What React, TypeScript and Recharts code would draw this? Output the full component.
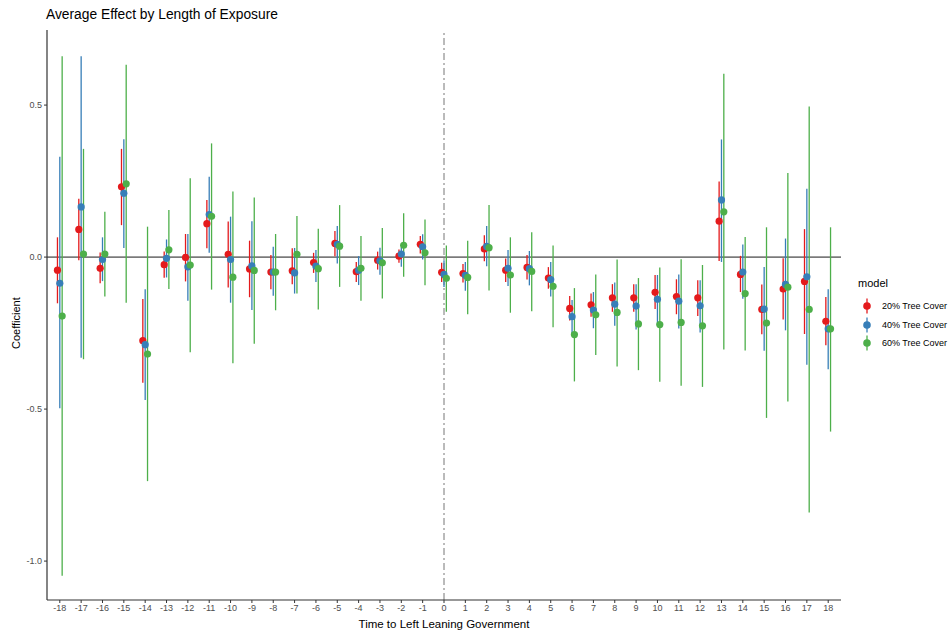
import { ComposedChart, Scatter, ErrorBar, XAxis, YAxis, ReferenceLine } from "recharts";

// time to left leaning government
const periods = [
  -18, -17, -16, -15, -14, -13, -12, -11, -10, -9, -8, -7, -6, -5, -4, -3, -2, -1,
  0, 1, 2, 3, 4, 5, 6, 7, 8, 9, 10, 11, 12, 13, 14, 15, 16, 17, 18,
];
const yTicks = [-1, -0.5, 0, 0.5];

// 20% tree cover
const est20 = [
  -0.043, 0.091, -0.037, 0.231, -0.275, -0.025, -0.001, 0.11, 0.009, -0.039, -0.049, -0.045, -0.018, 0.045, -0.048, -0.01, 0.003, 0.042,
  -0.05, -0.054, 0.027, -0.043, -0.034, -0.069, -0.169, -0.157, -0.134, -0.134, -0.116, -0.13, -0.134, 0.118, -0.057, -0.172, -0.105, -0.08, -0.211,
];
const lo20 = [
  -0.152, -0.01, -0.086, 0.105, -0.413, -0.068, -0.08, 0.029, -0.1, -0.132, -0.106, -0.089, -0.052, 0.003, -0.082, -0.041, -0.019, 0.012,
  -0.082, -0.084, -0.014, -0.082, -0.074, -0.104, -0.209, -0.196, -0.18, -0.18, -0.171, -0.188, -0.194, -0.013, -0.115, -0.254, -0.205, -0.253, -0.29,
];
const hi20 = [
  0.065, 0.192, 0.015, 0.356, -0.138, 0.018, 0.076, 0.188, 0.117, 0.054, 0.007, 0.029, 0.014, 0.086, -0.016, 0.018, 0.025, 0.069,
  -0.019, -0.023, 0.072, -0.005, 0.007, -0.033, -0.128, -0.12, -0.089, -0.089, -0.059, -0.073, -0.076, 0.249, 0.004, -0.09, -0.004, 0.092, -0.131,
];

// 40% tree cover
const est40 = [
  -0.086, 0.165, -0.008, 0.21, -0.288, -0.004, -0.032, 0.14, -0.008, -0.029, -0.049, -0.052, -0.03, 0.042, -0.043, -0.012, 0.01, 0.034,
  -0.057, -0.06, 0.035, -0.037, -0.038, -0.074, -0.196, -0.174, -0.155, -0.161, -0.139, -0.145, -0.16, 0.188, -0.049, -0.171, -0.09, -0.065, -0.236,
];
const lo40 = [
  -0.497, -0.331, -0.079, 0.03, -0.47, -0.067, -0.144, 0.014, -0.15, -0.174, -0.127, -0.12, -0.082, -0.021, -0.092, -0.058, -0.032, -0.008,
  -0.098, -0.111, -0.03, -0.095, -0.093, -0.13, -0.251, -0.234, -0.226, -0.238, -0.224, -0.235, -0.248, -0.016, -0.137, -0.308, -0.241, -0.354, -0.369,
];
const hi40 = [
  0.33, 0.661, 0.065, 0.388, -0.106, 0.058, 0.076, 0.264, 0.133, 0.118, 0.034, 0.03, 0.023, 0.102, 0.003, 0.031, 0.032, 0.075,
  -0.01, -0.016, 0.102, 0.023, 0.02, -0.016, -0.141, -0.115, -0.084, -0.089, -0.059, -0.057, -0.076, 0.387, 0.041, -0.033, 0.061, 0.225, -0.106,
];

// 60% tree cover
const est60 = [
  -0.194, 0.01, 0.01, 0.241, -0.319, 0.024, -0.026, 0.134, -0.066, -0.044, -0.049, 0.009, -0.038, 0.036, -0.037, -0.019, 0.039, 0.014,
  -0.07, -0.067, 0.031, -0.059, -0.047, -0.096, -0.255, -0.19, -0.182, -0.22, -0.222, -0.215, -0.226, 0.149, -0.12, -0.217, -0.099, -0.172, -0.236,
];
const lo60 = [
  -1.048, -0.336, -0.13, -0.15, -0.737, -0.105, -0.313, -0.107, -0.349, -0.285, -0.175, -0.12, -0.172, -0.098, -0.144, -0.136, -0.065, -0.093,
  -0.18, -0.188, -0.11, -0.183, -0.178, -0.231, -0.409, -0.322, -0.36, -0.372, -0.41, -0.423, -0.427, -0.304, -0.307, -0.529, -0.475, -0.84, -0.574,
];
const hi60 = [
  0.661, 0.356, 0.149, 0.633, 0.1, 0.155, 0.259, 0.374, 0.216, 0.196, 0.076, 0.135, 0.093, 0.171, 0.069, 0.096, 0.144, 0.124,
  0.038, 0.054, 0.171, 0.065, 0.082, 0.038, -0.102, -0.057, -0.008, -0.069, -0.034, -0.007, -0.026, 0.603, 0.066, 0.098, 0.277, 0.495, 0.098,
];

const models = [
  { name: "20% Tree Cover", color: "#E41A1C", est: est20, lo: lo20, hi: hi20, dodge: -0.11 },
  { name: "40% Tree Cover", color: "#377EB8", est: est40, lo: lo40, hi: hi40, dodge: 0 },
  { name: "60% Tree Cover", color: "#4DAF4A", est: est60, lo: lo60, hi: hi60, dodge: 0.11 },
];

const FONT = "Liberation Sans, Arial, Helvetica, sans-serif";
const tickStyle = { fill: "#4d4d4d", fontSize: 9, fontFamily: FONT };

const buildRows = (m: (typeof models)[number]) =>
  periods.map((p, i) => ({
    t: p + m.dodge,
    coef: m.est[i],
    err: [m.est[i] - m.lo[i], m.hi[i] - m.est[i]],
  }));

export default function App() {
  return (
    <div style={{ position: "absolute", left: 0, top: 0, width: 951, height: 633, background: "#fff", fontFamily: FONT }}>
      <div style={{ position: "absolute", left: 46, top: 7, fontSize: 13.8, color: "#000" }}>
        Average Effect by Length of Exposure
      </div>

      <ComposedChart width={951} height={633} margin={{ top: 30, right: 110, bottom: 12, left: 7 }}>
        <XAxis
          dataKey="t"
          type="number"
          domain={[-18.6, 18.6]}
          ticks={periods}
          interval={0}
          allowDataOverflow
          tick={tickStyle}
          tickSize={3}
          axisLine={{ stroke: "#333", strokeWidth: 1.2 }}
          tickLine={{ stroke: "#333" }}
          height={21}
        />
        <YAxis
          dataKey="coef"
          type="number"
          domain={[-1.128, 0.747]}
          ticks={yTicks}
          allowDataOverflow
          tickFormatter={(v: number) => v.toFixed(1)}
          tick={tickStyle}
          tickSize={3}
          axisLine={{ stroke: "#333", strokeWidth: 1.2 }}
          tickLine={{ stroke: "#333" }}
          width={40}
        />
        <ReferenceLine y={0} stroke="#1a1a1a" strokeWidth={1} />
        <ReferenceLine x={0} stroke="#777" strokeWidth={1} strokeDasharray="7 3 2 3" />
        {models.map((m) => (
          <Scatter
            key={m.name}
            name={m.name}
            data={buildRows(m)}
            fill={m.color}
            isAnimationActive={false}
            shape={(p: any) => <circle cx={p.cx} cy={p.cy} r={3.6} fill={m.color} />}
          >
            <ErrorBar dataKey="err" direction="y" width={0} stroke={m.color} strokeWidth={1.3} isAnimationActive={false} />
          </Scatter>
        ))}
      </ComposedChart>

      <div
        style={{
          position: "absolute",
          left: 0,
          top: 315,
          width: 32,
          textAlign: "center",
          fontSize: 11,
          transform: "translate(0,-50%) rotate(-90deg)",
          transformOrigin: "16px 50%",
          whiteSpace: "nowrap",
          color: "#000",
        }}
      >
        <span style={{ display: "inline-block", transform: "translateX(-18px)" }}>Coefficient</span>
      </div>
      <div style={{ position: "absolute", left: 47, width: 794, top: 618, textAlign: "center", fontSize: 11.5, color: "#000" }}>
        Time to Left Leaning Government
      </div>

      <div style={{ position: "absolute", left: 858, top: 277, fontFamily: FONT }}>
        <div style={{ fontSize: 11, color: "#000", marginBottom: 8 }}>model</div>
        {models.map((m) => (
          <div key={m.name} style={{ display: "flex", alignItems: "center", height: 18.5 }}>
            <svg width={18} height={18}>
              <line x1={9} x2={9} y1={1.5} y2={16.5} stroke={m.color} strokeWidth={1.3} />
              <circle cx={9} cy={9} r={3.8} fill={m.color} />
            </svg>
            <span style={{ fontSize: 9, color: "#000", marginLeft: 6 }}>{m.name}</span>
          </div>
        ))}
      </div>
    </div>
  );
}
